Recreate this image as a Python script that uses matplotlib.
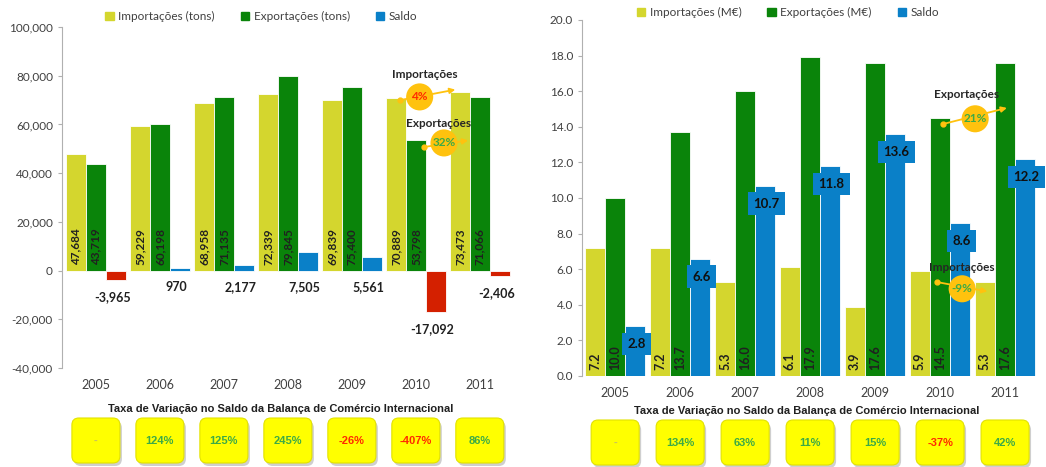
import numpy as np
import matplotlib.pyplot as plt
from matplotlib.patches import Rectangle, FancyBboxPatch

plt.rcParams['font.family'] = ['Lato', 'DejaVu Sans']

years = ['2005', '2006', '2007', '2008', '2009', '2010', '2011']

# left chart (tons)
imp_tons = [47684, 59229, 68958, 72339, 69839, 70889, 73473]
exp_tons = [43719, 60198, 71135, 79845, 75400, 53798, 71066]
saldo_tons = [-3965, 970, 2177, 7505, 5561, -17092, -2406]
taxa_tons = ['-', '124%', '125%', '245%', '-26%', '-407%', '86%']

# right chart (M EUR)
imp_eur = [7.2, 7.2, 5.3, 6.1, 3.9, 5.9, 5.3]
exp_eur = [10.0, 13.7, 16.0, 17.9, 17.6, 14.5, 17.6]
saldo_eur = [2.8, 6.6, 10.7, 11.8, 13.6, 8.6, 12.2]
taxa_eur = ['-', '134%', '63%', '11%', '15%', '-37%', '42%']

C_IMP = '#d4d62e'
C_EXP = '#0a840a'
C_SAL = '#0a80c8'
C_NEG = '#d42000'
C_TXT = '#404040'
C_GOLD = '#ffc20e'
C_GREEN = '#3caa46'
C_RED = '#ff2a00'

fig = plt.figure(figsize=(10.46, 4.67), dpi=100)
axL = fig.add_axes([62/1046, 1-368/467, 453/1046, 341/467])
axR = fig.add_axes([582/1046, 1-376/467, 464/1046, 356/467])

x = np.arange(len(years))
w = 0.31


def style_axis(ax):
    for s in ['top', 'right', 'bottom']:
        ax.spines[s].set_visible(False)
    ax.spines['left'].set_color('#b0b0b0')
    ax.tick_params(axis='y', colors=C_TXT, labelsize=8.5, length=3, color='#b0b0b0')
    ax.tick_params(axis='x', colors=C_TXT, labelsize=9, length=0, pad=8)
    ax.set_xticks(x)
    ax.set_xticklabels(years)


def bubble(ax, label, pct, pct_color, txt_xy, circ_xy, a_from, a_to):
    ax.text(*txt_xy, label, ha='center', va='center', fontsize=8.5, fontweight='bold',
            color='#262626', zorder=6)
    ax.annotate('', xy=a_to, xytext=a_from,
                arrowprops=dict(arrowstyle='-|>', color=C_GOLD, lw=1.3,
                                mutation_scale=8), zorder=5)
    ax.plot(*a_from, 'o', color=C_GOLD, ms=3.5, zorder=5)
    ax.scatter(*circ_xy, s=380, color=C_GOLD, zorder=6, edgecolors='none')
    ax.text(*circ_xy, pct, ha='center', va='center', fontsize=8.5, fontweight='bold',
            color=pct_color, zorder=7)


# ---- left chart
axL.bar(x - w, imp_tons, w, color=C_IMP, edgecolor='white', linewidth=0.6)
axL.bar(x, exp_tons, w, color=C_EXP, edgecolor='white', linewidth=0.6)
sal_cols = [C_SAL if v >= 0 else C_NEG for v in saldo_tons]
axL.bar(x + w, saldo_tons, w, color=sal_cols, edgecolor='white', linewidth=0.6)
for i in range(len(years)):
    axL.annotate(f'{imp_tons[i]:,}', (x[i] - w, 0), xytext=(0, 4), textcoords='offset points',
                 rotation=90, ha='center', va='bottom', fontsize=8.5, fontweight='bold', color='#202020')
    axL.annotate(f'{exp_tons[i]:,}', (x[i], 0), xytext=(0, 4), textcoords='offset points',
                 rotation=90, ha='center', va='bottom', fontsize=8.5, fontweight='bold', color='#202020')
    axL.annotate(f'{saldo_tons[i]:,}', (x[i] + w * 0.85, min(saldo_tons[i], 0)), xytext=(0, -12),
                 textcoords='offset points', ha='center', va='center', fontsize=9,
                 fontweight='bold', color='#202020')
axL.set_xlim(-0.53, 6.55)
axL.set_ylim(-40000, 100000)
axL.set_yticks(np.arange(-40000, 100001, 20000))
axL.set_yticklabels([f'{v:,}' for v in range(-40000, 100001, 20000)])
style_axis(axL)
bubble(axL, 'Importações', '4%', C_RED, (5.14, 80700), (5.06, 71300), (4.76, 70000), (5.66, 74500))
bubble(axL, 'Exportações', '32%', C_GREEN, (5.36, 60200), (5.44, 52400), (5.12, 50700), (5.86, 53600))
handles = [Rectangle((0, 0), 1, 1, color=c) for c in (C_IMP, C_EXP, C_SAL)]
axL.legend(handles, ['Importações (tons)', 'Exportações (tons)', 'Saldo'], ncol=3,
           loc='center', bbox_to_anchor=(0.44, 1.03), frameon=False, fontsize=8.5,
           handlelength=0.7, handleheight=0.7, handletextpad=0.4, columnspacing=2.2,
           labelcolor=C_TXT)

# ---- right chart
axR.bar(x - w, imp_eur, w, color=C_IMP, edgecolor='white', linewidth=0.6)
axR.bar(x, exp_eur, w, color=C_EXP, edgecolor='white', linewidth=0.6)
axR.bar(x + w, saldo_eur, w, color=C_SAL, edgecolor='white', linewidth=0.6)
for i in range(len(years)):
    axR.annotate(f'{imp_eur[i]:.1f}', (x[i] - w, 0), xytext=(0, 4), textcoords='offset points',
                 rotation=90, ha='center', va='bottom', fontsize=9, fontweight='bold', color='#202020')
    axR.annotate(f'{exp_eur[i]:.1f}', (x[i], 0), xytext=(0, 4), textcoords='offset points',
                 rotation=90, ha='center', va='bottom', fontsize=9, fontweight='bold', color='#202020')
    axR.annotate(f'{saldo_eur[i]:.1f}', (x[i] + w, saldo_eur[i]), xytext=(1, -13),
                 textcoords='offset points', ha='center', va='center', fontsize=9.5,
                 fontweight='bold', color='#101010',
                 bbox=dict(boxstyle='square,pad=0.4', fc=C_SAL, ec='none'))
axR.set_xlim(-0.51, 6.63)
axR.set_ylim(0, 20)
axR.set_yticks(np.arange(0, 20.1, 2))
axR.set_yticklabels([f'{v:.1f}' for v in np.arange(0, 20.1, 2)])
style_axis(axR)
bubble(axR, 'Exportações', '21%', C_GREEN, (5.40, 15.8), (5.54, 14.45), (5.04, 14.15), (6.07, 15.1))
bubble(axR, 'Importações', '-9%', C_GREEN, (5.34, 6.07), (5.34, 4.9), (4.95, 5.28), (5.77, 4.72))
axR.legend(handles, ['Importações (M€)', 'Exportações (M€)', 'Saldo'], ncol=3,
           loc='center', bbox_to_anchor=(0.444, 1.02), frameon=False, fontsize=8.5,
           handlelength=0.7, handleheight=0.7, handletextpad=0.4, columnspacing=2.2,
           labelcolor=C_TXT)

# ---- bottom boxes (pixel overlay)
ov = fig.add_axes([0, 0, 1, 1], zorder=-1)
ov.set_xlim(0, 1046)
ov.set_ylim(0, 467)
ov.axis('off')


def taxa_row(ax, vals, y0, title_xy):
    ov.text(*title_xy, 'Taxa de Variação no Saldo da Balança de Comércio Internacional',
            ha='center', va='center', fontsize=8, fontweight='bold', color='#202020',
            family='Liberation Sans')
    for i, t in enumerate(vals):
        cx = ax.transData.transform((x[i], 0))[0]
        bw, bh = 48, 45
        ov.add_patch(FancyBboxPatch((cx - bw/2 + 2, y0 - 3), bw, bh,
                                    boxstyle='round,pad=0,rounding_size=7',
                                    fc='#a0a0a0', ec='none', alpha=0.5))
        ov.add_patch(FancyBboxPatch((cx - bw/2, y0), bw, bh,
                                    boxstyle='round,pad=0,rounding_size=7',
                                    fc='#ffff00', ec='#e2e200', lw=0.8))
        if t == '-':
            col = '#c8c060'
        elif t.startswith('-'):
            col = C_RED
        else:
            col = C_GREEN
        ov.text(cx, y0 + bh/2, t, ha='center', va='center', fontsize=8,
                fontweight='bold', color=col, family='Liberation Sans')


taxa_row(axL, taxa_tons, 4, (281, 58))
taxa_row(axR, taxa_eur, 2, (807, 56))

fig.savefig('out.png', dpi=100)
